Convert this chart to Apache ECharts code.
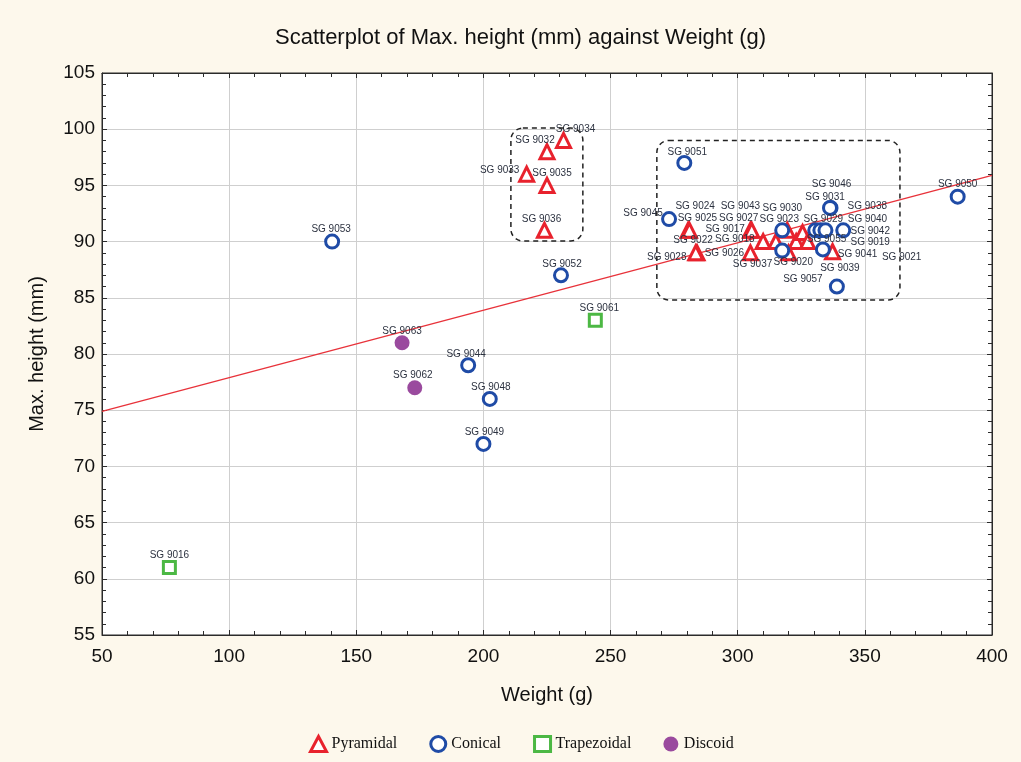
<!DOCTYPE html>
<html>
<head>
<meta charset="utf-8">
<script src="https://cdn.jsdelivr.net/npm/echarts@6/dist/echarts.min.js"></script>
<style>
html,body{margin:0;padding:0;background:#fdf8ec;}
#main{width:1021px;height:762px;}
</style>
</head>
<body>
<div id="main"></div>
<script>
// ---- data ----
const pyrNames  = ['SG 9034','SG 9032','SG 9033','SG 9035','SG 9036','SG 9024','SG 9025','SG 9022','SG 9028','SG 9026','SG 9043','SG 9027','SG 9037','SG 9017','SG 9018','SG 9030','SG 9019','SG 9055','SG 9021','SG 9041'];
const pyrWeight = [231.5, 225, 217, 225, 224, 280.5, 281, 284, 283.5, 305, 305, 305.5, 320, 310, 315, 319.5, 323, 325.5, 327.5, 337.3];
const pyrHeight = [99, 98, 96, 95, 91, 91, 91, 89, 89, 89, 91, 91, 89, 90, 90, 91, 90, 90.8, 90, 89.1];

const conNames  = ['SG 9053','SG 9044','SG 9048','SG 9049','SG 9052','SG 9051','SG 9045','SG 9050','SG 9057','SG 9023','SG 9046','SG 9031','SG 9038','SG 9029','SG 9040','SG 9042','SG 9039','SG 9020'];
const conWeight = [140.5, 194, 202.5, 200, 230.5, 279, 273, 386.5, 339, 317.5, 336.5, 336.3, 330.5, 332.5, 334.5, 341.5, 333.5, 317.5];
const conHeight = [90, 79, 76, 72, 87, 97, 92, 94, 86, 91, 93, 93, 91, 91, 91, 91, 89.3, 89.2];

const trapNames  = ['SG 9016','SG 9061'];
const trapWeight = [76.5, 244];
const trapHeight = [61, 83];

const discNames  = ['SG 9063','SG 9062'];
const discWeight = [168, 173];
const discHeight = [81, 77];

// fitted regression line (end points)
const fitWeight = [50, 400];
const fitHeight = [74.9, 95.9];

// dashed annotation boxes in data units [x1, y1, x2, y2]
const boxes = [[210.8, 100.1, 239.1, 90.05], [268.2, 99.0, 363.8, 84.8]];

const seriesNames = ['Pyramidal','Conical','Trapezoidal','Discoid'];

// ---- label placement (pixel offsets of label centre from its point) ----
const labelOffsets = {
  'SG 9034':[12,-11],'SG 9032':[-12,-11],'SG 9033':[-27,-4],'SG 9035':[5,-12],'SG 9036':[-3,-11],
  'SG 9024':[7,-24],'SG 9025':[8,-12],'SG 9022':[-4,-13],'SG 9028':[-29,4],'SG 9026':[-26,0],
  'SG 9043':[-10,-24],'SG 9027':[-13,-12],'SG 9037':[-36,11],'SG 9017':[-38,-12],'SG 9018':[-41,-2],
  'SG 9030':[-5,-22],'SG 9019':[74,1],'SG 9055':[24,7],'SG 9021':[94,16],'SG 9041':[25,3],
  'SG 9053':[-1,-12],'SG 9044':[-2,-11],'SG 9048':[1,-12],'SG 9049':[1,-12],'SG 9052':[1,-11],
  'SG 9051':[3,-11],'SG 9045':[-26,-6],'SG 9050':[0,-12],'SG 9057':[-34,-7],'SG 9023':[-3,-11],
  'SG 9046':[1,-24],'SG 9031':[-5,-11],'SG 9038':[52,-24],'SG 9029':[3,-11],'SG 9040':[42,-11],
  'SG 9042':[27,1],'SG 9039':[17,19],'SG 9020':[11,12],
  'SG 9016':[0,-12],'SG 9061':[4,-12],'SG 9063':[0,-12],'SG 9062':[-2,-12]
};

function items(names, xs, ys){
  return names.map((n,i)=>({name:n, value:[xs[i], ys[i]], label:{offset: labelOffsets[n] || [0,-12]}}));
}

const chart = echarts.init(document.getElementById('main'), null, {renderer:'canvas'});

const labelStyle = {show:true, position:'inside', formatter:'{b}', fontFamily:'Liberation Sans, Arial, sans-serif', fontSize:10, color:'#2c3240'};

const styles = {
  Pyramidal:{color:'#ffffff', borderColor:'#e8222d', borderWidth:3, opacity:1},
  Conical:{color:'#ffffff', borderColor:'#1f4ba6', borderWidth:3, opacity:1},
  Trapezoidal:{color:'#ffffff', borderColor:'#4cb844', borderWidth:3, opacity:1},
  Discoid:{color:'#9a4a9e', borderWidth:0, opacity:1}
};

function axisCommon(extra){
  return Object.assign({
    axisLine:{show:true, onZero:false, lineStyle:{color:'#2b2b2b', width:1}},
    axisTick:{show:true, inside:true, length:5, lineStyle:{color:'#2b2b2b'}},
    minorTick:{show:true, splitNumber:5, length:4, lineStyle:{color:'#2b2b2b'}},
  }, extra);
}

const option = {
  animation:false,
  backgroundColor:'#fdf8ec',
  title:{text:'Scatterplot of Max. height (mm) against Weight (g)', left:270, top:22,
    textStyle:{fontFamily:'Liberation Sans, Arial, sans-serif', fontWeight:'normal', fontSize:22, color:'#111'}},
  legend:{data:seriesNames.map(n=>({name:n, itemStyle:styles[n]})), left:304, top:730, itemGap:32, itemWidth:16, itemHeight:15,
    textStyle:{fontFamily:'Liberation Serif, Times New Roman, serif', fontSize:16, color:'#111'}},
  grid:{left:102, right:29, top:73, bottom:127, show:true, backgroundColor:'#ffffff', borderColor:'#2b2b2b', borderWidth:1},
  xAxis:[
    axisCommon({type:'value', min:50, max:400, interval:50, position:'bottom',
      name:'Weight (g)', nameLocation:'middle', nameGap:50,
      nameTextStyle:{fontFamily:'Liberation Sans, Arial, sans-serif', fontSize:20, color:'#111'},
      axisLabel:{fontFamily:'Liberation Sans, Arial, sans-serif', fontSize:19, color:'#111', margin:12},
      splitLine:{show:true, lineStyle:{color:'#cfcfcf', width:1}}}),
    axisCommon({type:'value', min:50, max:400, interval:50, position:'top',
      axisLabel:{show:false}, splitLine:{show:false}})
  ],
  yAxis:[
    axisCommon({type:'value', min:55, max:105, interval:5, position:'left',
      name:'Max. height (mm)', nameLocation:'middle', nameGap:55, nameRotate:90,
      nameTextStyle:{fontFamily:'Liberation Sans, Arial, sans-serif', fontSize:20, color:'#111'},
      axisLabel:{fontFamily:'Liberation Sans, Arial, sans-serif', fontSize:19, color:'#111', margin:7},
      splitLine:{show:true, lineStyle:{color:'#cfcfcf', width:1}}}),
    axisCommon({type:'value', min:55, max:105, interval:5, position:'right',
      axisLabel:{show:false}, splitLine:{show:false}})
  ],
  series:[
    {type:'line', name:'fit', data:fitWeight.map((x,i)=>[x, fitHeight[i]]), symbol:'none', silent:true,
      lineStyle:{color:'#e8323a', width:1.3}, z:1},
    {type:'scatter', name:'Pyramidal', symbol:'triangle', symbolSize:14, data:items(pyrNames,pyrWeight,pyrHeight),
      itemStyle:styles.Pyramidal, label:labelStyle, z:3},
    {type:'scatter', name:'Conical', symbol:'circle', symbolSize:13, data:items(conNames,conWeight,conHeight),
      itemStyle:styles.Conical, label:labelStyle, z:3},
    {type:'scatter', name:'Trapezoidal', symbol:'rect', symbolSize:12, data:items(trapNames,trapWeight,trapHeight),
      itemStyle:styles.Trapezoidal, label:labelStyle, z:3},
    {type:'scatter', name:'Discoid', symbol:'circle', symbolSize:15, data:items(discNames,discWeight,discHeight),
      itemStyle:styles.Discoid, label:labelStyle, z:3}
  ]
};
chart.setOption(option);

// dashed rounded annotation boxes, positioned through the chart's own scales
const g = boxes.map(b=>{
  const p1 = chart.convertToPixel({xAxisIndex:0, yAxisIndex:0}, [b[0], b[1]]);
  const p2 = chart.convertToPixel({xAxisIndex:0, yAxisIndex:0}, [b[2], b[3]]);
  return {type:'rect', z:10, silent:true,
    shape:{x:p1[0], y:p1[1], width:p2[0]-p1[0], height:p2[1]-p1[1], r:12},
    style:{fill:'none', stroke:'#222', lineWidth:1.5, lineDash:[5,4]}};
});
chart.setOption({graphic:g});
</script>
</body>
</html>
